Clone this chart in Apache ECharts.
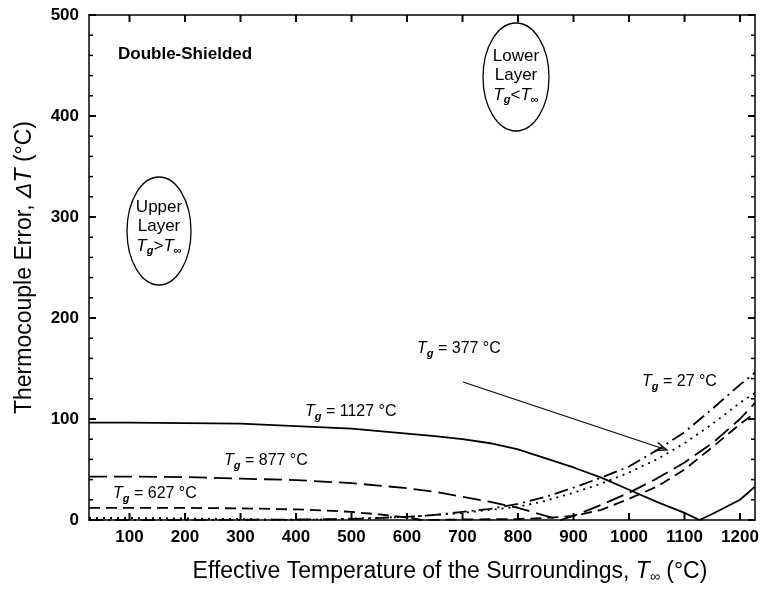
<!DOCTYPE html>
<html>
<head>
<meta charset="utf-8">
<script src="https://cdn.jsdelivr.net/npm/echarts@6/dist/echarts.min.js"></script>
<style>
html,body{margin:0;padding:0;background:#fff;}
#c{width:763px;height:592px;}
</style>
</head>
<body>
<div id="c"></div>
<script>
// ---- data ----
const xTicks = [100,200,300,400,500,600,700,800,900,1000,1100,1200];
const yMajorTicks = [0,100,200,300,400,500];
const yMinorTicks = [20,40,60,80,120,140,160,180,220,240,260,280,320,340,360,380,420,440,460,480];

const tInf1127 = [27,100,200,300,400,500,550,600,650,700,750,800,850,900,950,1000,1050,1100,1127,1150,1200,1227];
const dT1127   = [96.5,96.5,96,95.5,93,90.5,88,85.5,83,80,76,70,61,52,42,30,18,7,0,6,20,33];

const tInf877 = [27,100,200,300,400,500,600,650,700,750,800,850,877,900,950,1000,1050,1100,1150,1200,1227];
const dT877   = [43,43,42.5,41,39.5,36.5,31.5,28,23,18,12,4,0,4,15,27,41,57,76,100,116];

const tInf627 = [27,100,200,300,400,450,500,550,600,627,700,800,850,900,950,1000,1050,1100,1150,1200,1227];
const dT627   = [12,12,12,11.5,10.5,9.5,8,5.5,2.5,0,0.5,1,2,4,10,21,33,50,72,95,106];

const tInf377 = [27,100,200,300,377,450,500,600,700,800,850,900,950,1000,1050,1100,1150,1200,1227];
const dT377   = [2,2,1.5,1,0,0.5,1.5,3,7,13,19,27,36,47,60,76,95,116,126];

const tInf27 = [27,100,200,300,400,500,600,650,700,750,800,850,900,950,1000,1050,1100,1150,1200,1227];
const dT27   = [0,0,0,0.2,0.5,1,3,5,8,11,16,23,32,42,53,69,87,110,134,146];

const seriesNames = ['Tg = 1127 °C','Tg = 877 °C','Tg = 627 °C','Tg = 377 °C','Tg = 27 °C'];

// ---- chart ----
const FF = '"Liberation Sans", Arial, sans-serif';
const X_MIN = 27, X_MAX = 1227, Y_MIN = 0, Y_MAX = 500;
function zip(xs, ys){ return xs.map((x,i)=>[x, ys[i]]); }

const chart = echarts.init(document.getElementById('c'));

const lineSeries = (name, xs, ys, dash) => ({
  name, type:'line', xAxisIndex:0, yAxisIndex:0,
  data: zip(xs, ys), showSymbol:false, symbol:'none', smooth:false,
  lineStyle:{color:'#000', width:1.8, type:dash},
  silent:true
});

// tick marks on all four sides, positioned through the axes' own scales
const xTickSeries = {
  type:'custom', name:'xticks', silent:true, clip:false, z:20,
  data: xTicks.map(v => [v, Y_MIN]),
  renderItem: (params, api) => {
    const v = api.value(0);
    const b = api.coord([v, Y_MIN]);
    const t = api.coord([v, Y_MAX]);
    return {type:'group', children:[
      {type:'line', shape:{x1:b[0], y1:b[1], x2:b[0], y2:b[1]-7}, style:{stroke:'#000', lineWidth:2, lineDash:null}},
      {type:'line', shape:{x1:t[0], y1:t[1], x2:t[0], y2:t[1]+7}, style:{stroke:'#000', lineWidth:2, lineDash:null}}
    ]};
  }
};
const yTickData = yMajorTicks.map(v => [X_MIN, v, 7]).concat(yMinorTicks.map(v => [X_MIN, v, 4]));
const yTickSeries = {
  type:'custom', name:'yticks', silent:true, clip:false, z:20,
  data: yTickData,
  renderItem: (params, api) => {
    const v = api.value(1), len = api.value(2);
    const l = api.coord([X_MIN, v]);
    const r = api.coord([X_MAX, v]);
    const w = len > 5 ? 2 : 1.5;
    return {type:'group', children:[
      {type:'line', shape:{x1:l[0], y1:l[1], x2:l[0]+len, y2:l[1]}, style:{stroke:'#000', lineWidth:w, lineDash:null}},
      {type:'line', shape:{x1:r[0], y1:r[1], x2:r[0]-len, y2:r[1]}, style:{stroke:'#000', lineWidth:w, lineDash:null}}
    ]};
  }
};

const richSub = {
  n:{fontSize:16, fontFamily:FF, color:'#000'},
  t:{fontSize:16, fontFamily:FF, fontStyle:'italic', color:'#000'},
  s:{fontSize:11, fontFamily:FF, fontStyle:'italic', fontWeight:'bold', color:'#000', padding:[9,0,0,0]}
};
const richEll = {
  n:{fontSize:17, fontFamily:FF, color:'#000', lineHeight:19},
  t:{fontSize:17, fontFamily:FF, fontStyle:'italic', color:'#000', lineHeight:19},
  s:{fontSize:11, fontFamily:FF, fontStyle:'italic', fontWeight:'bold', color:'#000', padding:[9,0,0,0]}
};

function tgLabel(x, y, txt){
  return {type:'text', x, y, z:100, style:{
    text:'{t|T}{s|g}{n| = ' + txt + '}', rich:richSub, align:'left', verticalAlign:'middle'}};
}

const axLine = () => ({show:true, onZero:false, lineStyle:{color:'#000', width:1.5}});

chart.setOption({
  animation:false,
  grid:{left:89, right:8, top:15, bottom:72, containLabel:false, outerBoundsMode:'none'},
  xAxis:[
    {type:'value', min:X_MIN, max:X_MAX, position:'bottom',
     axisLine:axLine(),
     axisTick:{show:false},
     axisLabel:{customValues:xTicks, formatter:v=>String(v), fontSize:17, fontWeight:'bold', fontFamily:FF, color:'#000', margin:9},
     splitLine:{show:false},
     name:'{n|Effective Temperature of the Surroundings, }{t|T}{s|∞}{n| (°C)}',
     nameLocation:'middle', nameGap:40,
     nameTextStyle:{padding:[0,0,0,56], rich:{
       n:{fontSize:23, fontFamily:FF, color:'#000'},
       t:{fontSize:23, fontFamily:FF, fontStyle:'italic', color:'#000'},
       s:{fontSize:14, fontFamily:FF, color:'#000', padding:[10,0,0,0]}
     }}
    },
    {type:'value', min:X_MIN, max:X_MAX, position:'top',
     axisLine:axLine(), axisTick:{show:false}, axisLabel:{show:false}, splitLine:{show:false}}
  ],
  yAxis:[
    {type:'value', min:Y_MIN, max:Y_MAX, interval:100, position:'left',
     axisLine:axLine(),
     axisTick:{show:false},
     axisLabel:{customValues:yMajorTicks, fontSize:17, fontWeight:'bold', fontFamily:FF, color:'#000', margin:10},
     splitLine:{show:false},
     name:'{n|Thermocouple Error, }{t|ΔT}{n| (°C)}',
     nameLocation:'middle', nameGap:53,
     nameTextStyle:{rich:{
       n:{fontSize:23, fontFamily:FF, color:'#000'},
       t:{fontSize:23, fontFamily:FF, fontStyle:'italic', color:'#000'}
     }}
    },
    {type:'value', min:Y_MIN, max:Y_MAX, interval:100, position:'right',
     axisLine:axLine(), axisTick:{show:false}, axisLabel:{show:false}, splitLine:{show:false}}
  ],
  series:[
    xTickSeries,
    yTickSeries,
    lineSeries(seriesNames[0], tInf1127, dT1127, 'solid'),
    lineSeries(seriesNames[1], tInf877, dT877, [18,7]),
    lineSeries(seriesNames[2], tInf627, dT627, [11,6]),
    lineSeries(seriesNames[3], tInf377, dT377, [2,5]),
    lineSeries(seriesNames[4], tInf27, dT27, [14,5,2,5])
  ],
  graphic:[
    {type:'text', x:118, y:54, z:100, style:{text:'Double-Shielded', fontSize:17, fontWeight:'bold',
      fontFamily:FF, fill:'#000', align:'left', verticalAlign:'middle'}},
    {type:'ellipse', z:100, shape:{cx:159, cy:231, rx:32, ry:54},
      style:{fill:null, stroke:'#000', lineWidth:1.3}},
    {type:'text', x:159, y:227, z:100, style:{
      text:'{n|Upper}\n{n|Layer}\n{t|T}{s|g}{n|>}{t|T}{s|∞}', rich:richEll, align:'center', verticalAlign:'middle'}},
    {type:'ellipse', z:100, shape:{cx:516, cy:77, rx:33, ry:54},
      style:{fill:null, stroke:'#000', lineWidth:1.3}},
    {type:'text', x:516, y:76, z:100, style:{
      text:'{n|Lower}\n{n|Layer}\n{t|T}{s|g}{n|<}{t|T}{s|∞}', rich:richEll, align:'center', verticalAlign:'middle'}},
    tgLabel(305, 412, '1127 °C'),
    tgLabel(224, 461, '877 °C'),
    tgLabel(113, 494, '627 °C'),
    tgLabel(417, 349, '377 °C'),
    tgLabel(642, 382, '27 °C'),
    {type:'line', z:100, shape:{x1:463, y1:382, x2:667, y2:450}, style:{stroke:'#000', lineWidth:1.3}},
    {type:'polyline', z:100, shape:{points:[[655,450.5],[667,450],[657.6,442.5]]}, style:{stroke:'#000', lineWidth:1.3, fill:null}}
  ]
});
</script>
</body>
</html>
